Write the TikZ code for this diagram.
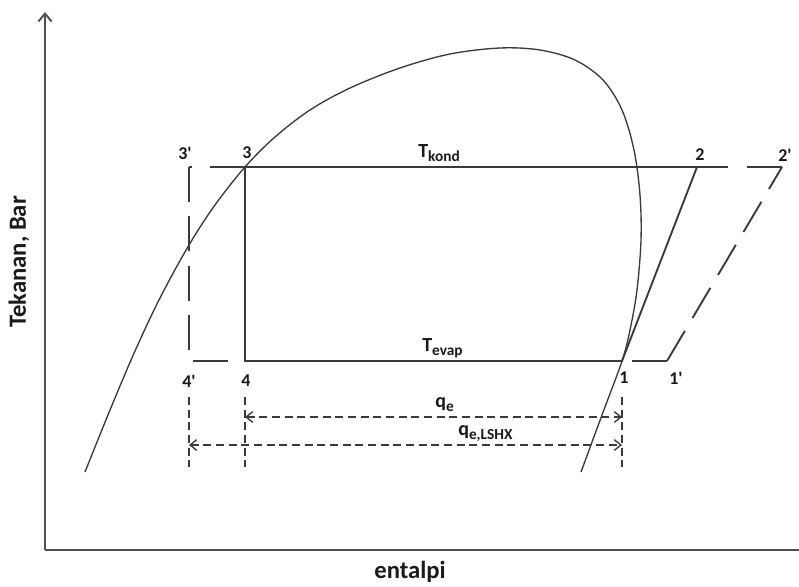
\documentclass[tikz,border=0pt]{standalone}
\usepackage{fontspec}
\setmainfont{Carlito}
\usetikzlibrary{arrows.meta}
\definecolor{linecol}{HTML}{3A3A3A}
\definecolor{axcol}{HTML}{505050}
\definecolor{txtcol}{HTML}{1A1A1A}
\newcommand{\pr}{\textquotesingle}
\begin{document}
\begin{tikzpicture}[x=0.75pt,y=-0.75pt,
  ax/.style={draw=axcol, line width=1.5pt},
  cyc/.style={draw=linecol, line width=1.4pt},
  dome/.style={draw=linecol, line width=1pt},
  lshx/.style={draw=linecol, line width=1.4pt},
  dimline/.style={draw=linecol, line width=1pt, dash pattern=on 6pt off 3.5pt},
  dimarrow/.style={dimline, {Straight Barb[length=5pt,width=8pt]}-{Straight Barb[length=5pt,width=8pt]}},
  lbl/.style={font=\fontsize{13.5}{16}\selectfont\bfseries, text=txtcol, inner sep=0pt},
  axl/.style={font=\fontsize{18.5}{22}\selectfont\bfseries, text=txtcol, inner sep=0pt}
]
\useasboundingbox (0,0) rectangle (799,586);
\fill[white] (0,0) rectangle (799,586);
% axes
\coordinate (O) at (45,550);
\coordinate (Ytop) at (45,12);
\coordinate (Xend) at (799,550);
\draw[ax, -{Straight Barb[length=6pt,width=10pt]}] (O) -- (Ytop);
\draw[ax] (O) -- (Xend);
% cycle points
\coordinate (P3) at (245,167);
\coordinate (P2) at (697,167);
\coordinate (P1) at (622,361);
\coordinate (P4) at (245,361);
\coordinate (Q3) at (189,167);
\coordinate (Q2) at (782,167);
\coordinate (Q1) at (667,361);
\coordinate (Q4) at (189,361);
% dome
\draw[dome] plot[smooth, tension=0.55] coordinates {(85,472) (110,410) (135,351) (160,298) (189,245) (215,205) (245,167) (275,137) (310,110) (350,88) (400,68) (450,54) (500,48) (540,50) (575,60) (603,80) (622,110) (634,150) (640,195) (641,240) (637,290) (630,330) (622,361) (602,415) (581,472)};
% LSHX dashed cycle
\draw[lshx, dash pattern=on 26.25pt off 11.25pt] (Q1) -- (Q2);
\draw[lshx, dash pattern=on 26.25pt off 14.0pt] (Q2) -- (Q3);
\draw[lshx, dash pattern=on 26.25pt off 10.7pt] (Q3) -- (Q4);
\draw[lshx, dash pattern=on 26.25pt off 14.9pt] (Q1) -- (Q4);
% basic cycle
\draw[cyc] (P4) -- (P3) -- (P2) -- (P1) -- cycle;
% dimension lines
\coordinate (V4a) at (189,397); \coordinate (V4b) at (189,467);
\coordinate (V5a) at (245,397); \coordinate (V5b) at (245,467);
\coordinate (V1a) at (622,397); \coordinate (V1b) at (622,467);
\draw[dimline] (V4a) -- (V4b);
\draw[dimline] (V5a) -- (V5b);
\draw[dimline] (V1a) -- (V1b);
\coordinate (A4) at (245,417); \coordinate (A1) at (622,417);
\coordinate (B4) at (189,445); \coordinate (B1) at (622,445);
\draw[dimarrow] (A4) -- (A1);
\draw[dimarrow] (B4) -- (B1);
% labels
\node[lbl] (l3p) at (185,153) {3\pr};
\node[lbl] (l3) at (247,153) {3};
\node[lbl] (l2) at (700,155) {2};
\node[lbl] (l2p) at (785,155) {2\pr};
\node[lbl] (l4p) at (189,381) {4\pr};
\node[lbl] (l4) at (246,381) {4};
\node[lbl] (l1) at (624,378) {1};
\node[lbl] (l1p) at (676,378) {1\pr};
\node[lbl, anchor=base west] (tk) at (418,157) {\fontsize{15}{18}\selectfont T\raisebox{-3.5pt}{\fontsize{11.5}{13}\selectfont kond}};
\node[lbl, anchor=base west] (te) at (422,351) {\fontsize{15}{18}\selectfont T\raisebox{-3pt}{\fontsize{11.5}{13}\selectfont evap}};
\node[lbl, anchor=base west] (qe) at (435,407) {\fontsize{15}{18}\selectfont q\raisebox{-3pt}{\fontsize{11.5}{13}\selectfont e}};
\node[lbl, anchor=base west] (ql) at (458,435) {\fontsize{15}{18}\selectfont q\raisebox{-3pt}{\fontsize{11.5}{13}\selectfont e,LSHX}};
\node[axl] (xlab) at (410,572) {entalpi};
\node[axl, rotate=90] (ylab) at (19,262) {Tekanan, Bar};
\end{tikzpicture}
\end{document}
